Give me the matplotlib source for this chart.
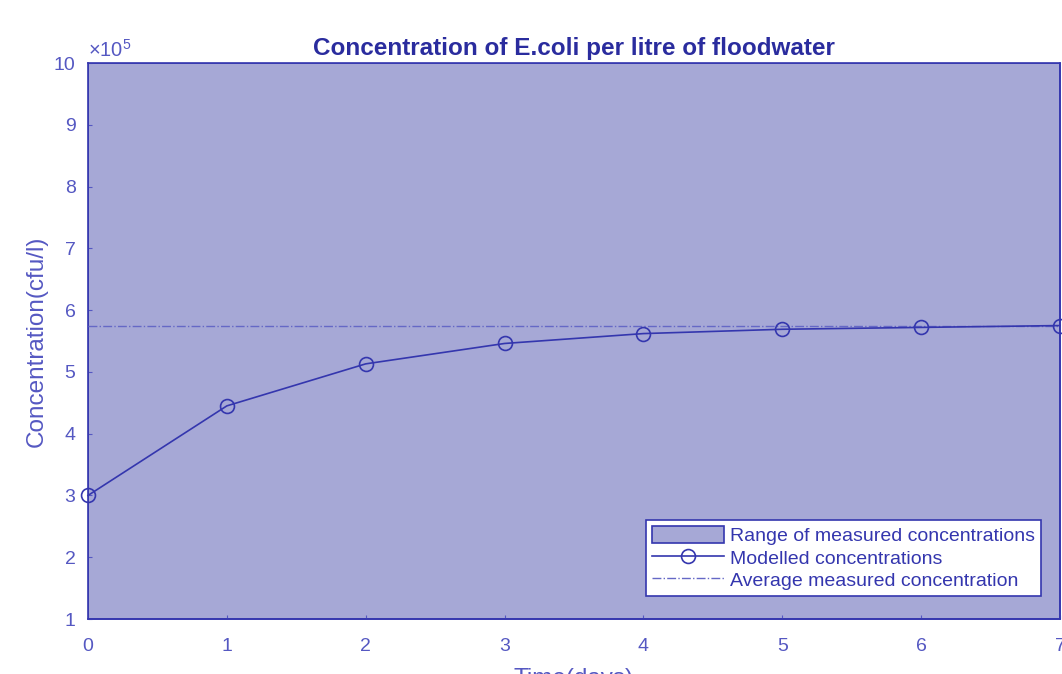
import matplotlib
matplotlib.use("Agg")
import matplotlib.pyplot as plt

plt.rcParams['font.family'] = ['Liberation Sans', 'DejaVu Sans']
plt.rcParams['mathtext.fontset'] = 'custom'
plt.rcParams['mathtext.rm'] = 'Liberation Sans'
plt.rcParams['mathtext.it'] = 'Liberation Sans'

days = [0, 1, 2, 3, 4, 5, 6, 7]
modelled = [3.0, 4.45, 5.13, 5.46, 5.62, 5.69, 5.72, 5.75]  # x 1e5 cfu/l
range_low = [1, 1, 1, 1, 1, 1, 1, 1]
range_high = [10, 10, 10, 10, 10, 10, 10, 10]
avg_measured = 5.75
xticks = [0, 1, 2, 3, 4, 5, 6, 7]
yticks = [1, 2, 3, 4, 5, 6, 7, 8, 9, 10]

line_c = '#3436AE'
tick_c = '#5558C2'
fill_c = '#A6A8D6'

fig = plt.figure(figsize=(10.62, 6.74), dpi=100)
ax = fig.add_axes([88/1062, 1-619/674, (1060-88)/1062, (619-63)/674])

ax.fill_between(days, range_low, range_high, facecolor=fill_c, edgecolor=line_c,
                linewidth=1.2, label='Range of measured concentrations')
ax.plot(days, modelled, '-o', color=line_c, markerfacecolor='none', markersize=10,
        markeredgewidth=1.2, linewidth=1.2, clip_on=False, label='Modelled concentrations', zorder=5)
ax.axhline(avg_measured, color='#6568C6', linestyle='-.', linewidth=1.0,
           label='Average measured concentration', zorder=4)

ax.set_xlim(0, 7)
ax.set_ylim(1, 10)
ax.set_xticks(xticks)
ax.set_yticks(yticks)
ax.tick_params(direction='in', length=3, colors=tick_c, labelsize=14)
ax.tick_params(axis='x', pad=14)
ax.tick_params(axis='y', pad=9)
for s in ax.spines.values():
    s.set_color(line_c)
    s.set_linewidth(1.2)

ax.set_title('Concentration of E.coli per litre of floodwater', fontsize=17.5,
             fontweight='bold', color='#2A2C9E', pad=6)
ax.set_ylabel('Concentration(cfu/l)', fontsize=17.5, color=tick_c, labelpad=4)
ax.set_xlabel('Time(days)', fontsize=17.5, color=tick_c, labelpad=9)
ax.text(0.0, 1.004, r'$\times10^{5}$', transform=ax.transAxes, fontsize=14.5,
        color=tick_c, ha='left', va='bottom')

leg = ax.legend(loc='lower right', bbox_to_anchor=(1043/1060, 0.035), fontsize=14,
                frameon=True, fancybox=False, framealpha=1, edgecolor=line_c,
                handlelength=3.7, handleheight=1.0, borderpad=0.3, labelspacing=0.15,
                handletextpad=0.3, borderaxespad=0.2)
leg.get_frame().set_linewidth(1.2)
for t in leg.get_texts():
    t.set_color(line_c)

fig.savefig('out.png', dpi=100)
